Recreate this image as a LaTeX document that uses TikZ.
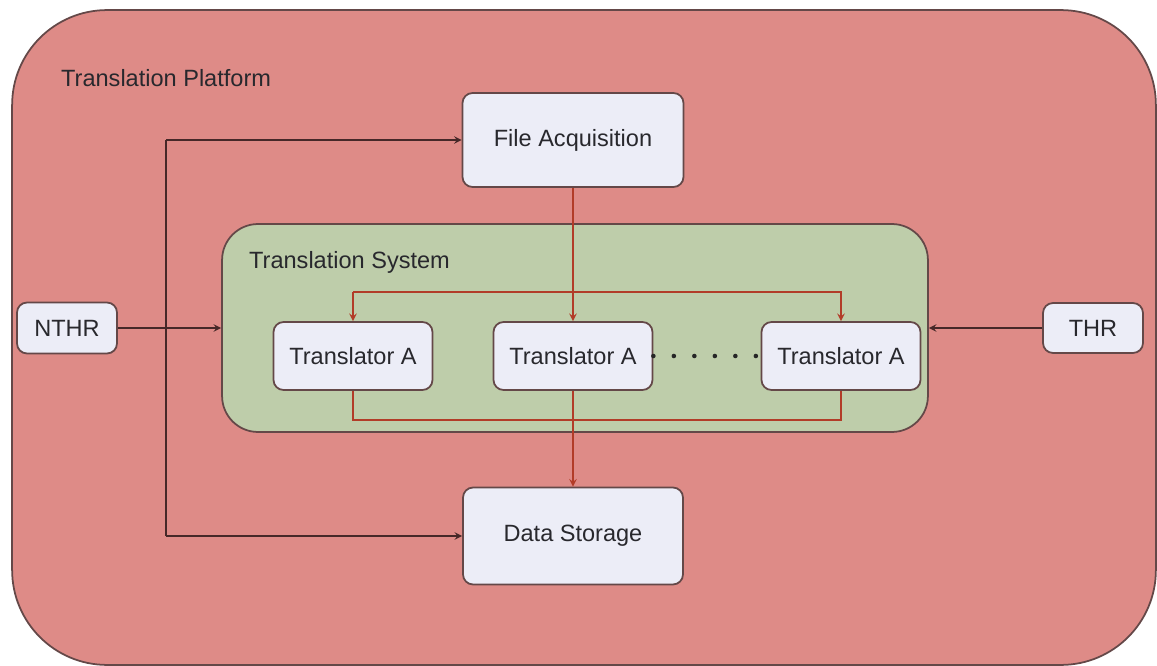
\documentclass[tikz,border=0pt]{standalone}
\usepackage{fontspec}
\setmainfont{Liberation Sans}
\usetikzlibrary{arrows}

\definecolor{platformred}{RGB}{222,139,135}
\definecolor{systemgreen}{RGB}{190,205,170}
\definecolor{boxfill}{RGB}{236,237,247}
\definecolor{frame}{RGB}{100,72,72}
\definecolor{wire}{RGB}{70,40,40}
\definecolor{redwire}{RGB}{178,60,40}
\definecolor{textgray}{RGB}{40,40,45}

\tikzset{
	container/.style = {draw = frame, line width = 1pt, inner sep = 0pt},
	block/.style = {draw = frame, fill = boxfill, line width = 1pt, rounded corners = 0.2cm,
		inner sep = 0pt, text = textgray},
	wireline/.style = {draw = wire, line width = 0.9pt},
	redline/.style = {draw = redwire, line width = 0.9pt},
	dotline/.style = {draw = black!85, line width = 2.6pt, line cap = round,
		dash pattern = on 0pt off 0.41cm}
}

\begin{document}
\begin{tikzpicture}[x = 0.02cm, y = -0.02cm, font = \fontsize{13.4}{15}\selectfont]
			\useasboundingbox (0,0) rectangle (1157,666);
			
			% containers
			\node [container, fill = platformred, rounded corners = 1.9cm,
				minimum width = 22.88cm, minimum height = 13.1cm] (platform) at (584,337.5) {};
			\node [anchor = west, text = textgray] (platformlabel) at (55,78) {Translation Platform};
			
			\node [container, fill = systemgreen, rounded corners = 0.72cm,
				minimum width = 14.12cm, minimum height = 4.16cm] (system) at (575,328) {};
			\node [anchor = west, text = textgray] (systemlabel) at (243,262) {Translation System};
			
			% blocks
			\node [block, minimum width = 4.42cm, minimum height = 1.88cm] (acquisition) at (573,140) {File Acquisition};
			\node [block, minimum width = 4.4cm, minimum height = 1.94cm] (storage) at (573,536) {Data Storage};
			
			\node [block, minimum width = 3.18cm, minimum height = 1.36cm] (trA) at (353,356) {Translator A};
			\node [block, minimum width = 3.18cm, minimum height = 1.36cm] (trB) at (573,356) {Translator A};
			\node [block, minimum width = 3.18cm, minimum height = 1.36cm] (trC) at (841,356) {Translator A};
			
			\node [block, minimum width = 2cm, minimum height = 1.02cm] (nthr) at (67,328) {NTHR};
			\node [block, minimum width = 2cm, minimum height = 1cm] (thr) at (1093,328) {THR};
			
			\coordinate (bus) at (166,0);
			\coordinate (feed) at (0,292);
			\coordinate (back) at (0,420);
			
			% black wires
			\draw [wireline] (acquisition.west -| bus) -- (storage.west -| bus);
			\begin{scope}[-stealth]
				\draw [wireline] (acquisition.west -| bus) -- (acquisition.west);
				\draw [wireline] (storage.west -| bus) -- (storage.west);
				\draw [wireline] (nthr.east) -- (nthr.east -| system.west);
				\draw [wireline] (thr.west) -- (thr.west -| system.east);
			\end{scope}
			
			% red wires
			\draw [redline] (trA.south) |- (trC.south |- back) -- (trC.south);
			\begin{scope}[-stealth]
				\draw [redline] (acquisition.south) -- (trB.north);
				\draw [redline] (trA.north |- feed) -- (trA.north);
				\draw [redline] (trA.north |- feed) -| (trC.north);
				\draw [redline] (trB.south) -- (storage.north);
			\end{scope}
			
			\draw [dotline] (trB.east) -- (trC.west);
		\end{tikzpicture}
\end{document}
